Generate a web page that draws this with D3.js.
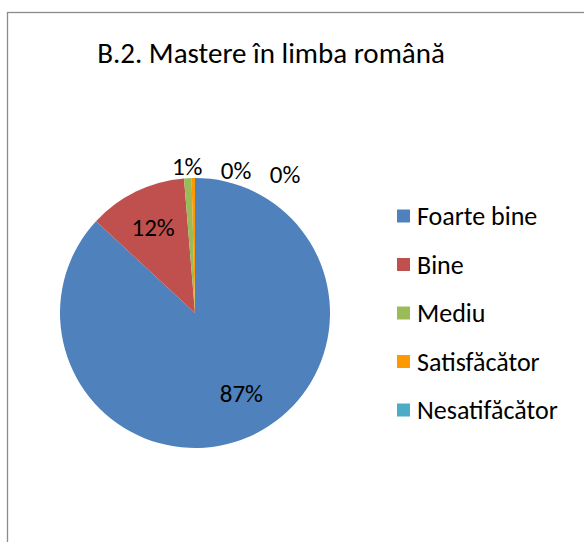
<!DOCTYPE html>
<html>
<head>
<meta charset="utf-8">
<script src="https://cdn.jsdelivr.net/npm/d3@7"></script>
<style>
  body { margin: 0; background: #fff; }
  svg { display: block; font-family: Carlito, Lato, "Open Sans", sans-serif; }
</style>
</head>
<body>
<div id="chart"></div>
<script>
// Données
const titlu = "B.2. Mastere în limba română"
const categorii = ["Foarte bine", "Bine", "Mediu", "Satisfăcător", "Nesatifăcător"]
const valori = [86.9, 11.8, 0.9, 0.4, 0.0]
const culori = ["#4F81BD", "#C0504D", "#9BBB59", "#FF9900", "#4BACC6"]

const width = 584, height = 542

const svg = d3.select('#chart')
    .append('svg')
    .attr("width", width)
    .attr("height", height)

// cadru
svg.append("rect")
    .attr("x", 7.5).attr("y", 12.5)
    .attr("width", width + 20).attr("height", height + 20)
    .attr("fill", "none")
    .attr("stroke", "#8c8c8c")
    .attr("stroke-width", 1.3)

// titlu
svg.append("text")
    .attr("x", 271).attr("y", 63)
    .attr("text-anchor", "middle")
    .attr("font-size", 29)
    .attr("fill", "#000")
    .text(titlu)

// --- Pie ---
const cx = 195, cy = 313, r = 135

const pie = d3.pie().sort(null).value(d => d)
const arcs = pie(valori)

const arc = d3.arc().innerRadius(0).outerRadius(r)
const labelArc = d3.arc().innerRadius(r * 0.71).outerRadius(r * 0.71)
const outerArc = d3.arc().innerRadius(r * 1.09).outerRadius(r * 1.09)

const g = svg.append("g").attr("transform", `translate(${cx},${cy})`)

g.selectAll("path")
    .data(arcs)
    .join("path")
    .attr("d", arc)
    .attr("fill", (d, i) => culori[i])

const fmt = v => Math.round(v) + "%"

// etichete: in interior pentru felii mari, in exterior pentru cele mici
let prev = null
const etichete = arcs.map((d, i) => {
    const big = (d.endAngle - d.startAngle) > 0.3
    let [x, y] = big ? labelArc.centroid(d) : outerArc.centroid(d)
    if (big && x > 0) { x += 8; y -= 8 }
    if (!big) {
        if (prev && x < prev[0] + 49) { x = prev[0] + 49; y = prev[1] + 4 }
        prev = [x, y]
    }
    return {x, y, t: fmt(valori[i])}
})

g.selectAll("text.lbl")
    .data(etichete)
    .join("text")
    .attr("class", "lbl")
    .attr("x", d => d.x)
    .attr("y", d => d.y)
    .attr("dy", "0.36em")
    .attr("text-anchor", "middle")
    .attr("font-size", 25)
    .attr("fill", "#000")
    .text(d => d.t)

// --- Legenda ---
const legY = d3.scalePoint().domain(categorii).range([216, 410])

const leg = svg.append("g")
leg.selectAll("rect")
    .data(categorii)
    .join("rect")
    .attr("x", 397)
    .attr("y", d => legY(d) - 6.5)
    .attr("width", 13).attr("height", 13)
    .attr("fill", (d, i) => culori[i])

leg.selectAll("text")
    .data(categorii)
    .join("text")
    .attr("x", 417)
    .attr("y", d => legY(d))
    .attr("dy", "0.36em")
    .attr("font-size", 26)
    .attr("fill", "#000")
    .text(d => d)
</script>
</body>
</html>
